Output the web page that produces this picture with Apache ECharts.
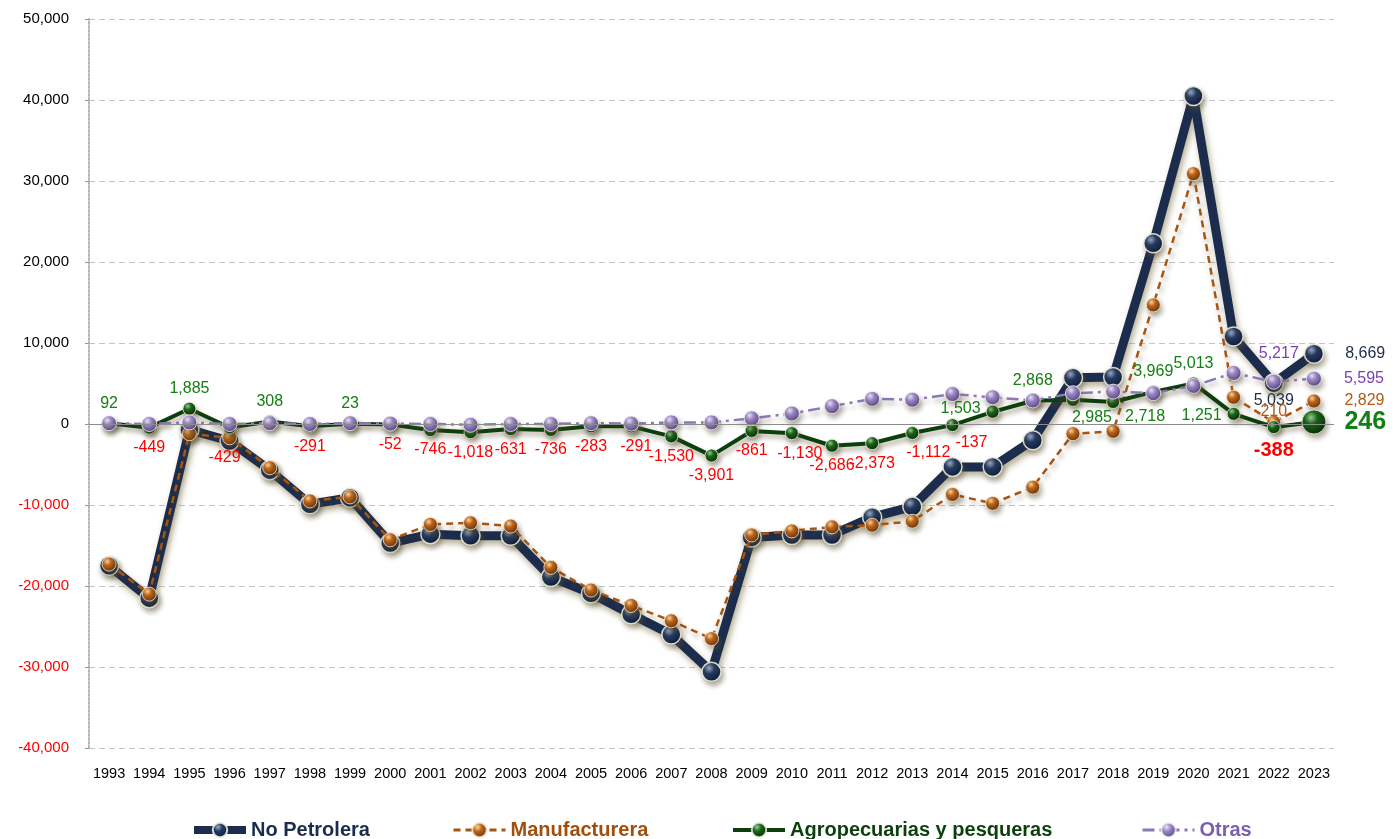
<!DOCTYPE html>
<html lang="es">
<head>
    <meta charset="UTF-8">
    <title>Balanza comercial no petrolera</title>
    <script src="https://cdn.jsdelivr.net/npm/echarts@6.0.0/dist/echarts.min.js"></script>
    <style>
        * { margin: 0; padding: 0; box-sizing: border-box; }
        body { background: #fff; }
        #chart { width: 1400px; height: 839px; }
    </style>
</head>
<body>
    <div id="chart"></div>
    <script>
        // datos
        const years = ['1993','1994','1995','1996','1997','1998','1999','2000','2001','2002','2003','2004','2005','2006','2007','2008','2009','2010','2011','2012','2013','2014','2015','2016','2017','2018','2019','2020','2021','2022','2023'];
        const noPetrolera = [-17500,-21500,-700,-2100,-5700,-9900,-9100,-14700,-13600,-13800,-13800,-18900,-20900,-23500,-26000,-30600,-14000,-13700,-13700,-11500,-10200,-5300,-5300,-2000,5700,5800,22300,40500,10800,5039,8669];
        const manufacturera = [-17300,-21000,-1200,-1700,-5400,-9500,-9000,-14300,-12400,-12200,-12600,-17700,-20500,-22400,-24300,-26500,-13700,-13200,-12700,-12500,-12000,-8700,-9800,-7800,-1200,-900,14700,30900,3300,210,2829];
        const agro = [92,-449,1885,-429,308,-291,23,-52,-746,-1018,-631,-736,-283,-291,-1530,-3901,-861,-1130,-2686,-2373,-1112,-137,1503,2868,2985,2718,3969,5013,1251,-388,246];
        const otras = [100,0,200,0,100,0,100,50,0,-100,0,0,100,50,200,200,700,1300,2200,3100,3000,3700,3300,2900,3800,4000,3800,4700,6300,5217,5595];
        const yTicks = [-40000, 50000, 10000]; // min, max, intervalo

        const fmt = v => v.toLocaleString('en-US');
        const labelFmt = p => fmt(p.value);
        const FONT = 'Arial, "Liberation Sans", sans-serif';

        const sphere = (light, base, dark) => ({
            type: 'radial', x: 0.38, y: 0.32, r: 0.75,
            colorStops: [
                { offset: 0, color: light },
                { offset: 0.35, color: base },
                { offset: 1, color: dark }
            ]
        });

        const cNavy = '#1b2c4c', cOrange = '#a9540f', cGreen = '#0b3f0b', cPurple = '#8c78b8';

        // posiciones de etiquetas de la serie agropecuaria
        const agroLabel = {
            3: { position: 'bottom', offset: [-5, 10] },
            13: { position: 'bottom', offset: [5, 0] },
            17: { position: 'bottom', offset: [8, 0] },
            20: { position: 'bottom', offset: [16, 0] },
            21: { position: 'bottom', offset: [19, -3] },
            22: { position: 'left', offset: [0, -3] },
            24: { position: 'bottom', offset: [19, -2] },
            25: { position: 'right', offset: [0, 15] },
            28: { position: 'left', offset: [0, 2] },
            29: { position: 'bottom', distance: 6, fontSize: 20, fontWeight: 'bold' },
            30: { position: 'right', distance: 18, fontSize: 25, fontWeight: 'bold' }
        };

        const agroData = agro.map((v, i) => {
            const custom = agroLabel[i] || {};
            const item = {
                value: v,
                label: Object.assign({
                    show: true,
                    position: v >= 0 ? 'top' : 'bottom',
                    color: v >= 0 ? '#138013' : '#ff0000'
                }, custom)
            };
            if (i === 30) item.symbolSize = 24;
            return item;
        });

        const lastLabels = (arr, specs) => arr.map((v, i) => {
            const s = specs[i - (arr.length - 2)];
            return s ? { value: v, label: Object.assign({ show: true }, s) } : v;
        });

        const navyData = lastLabels(noPetrolera, [
            { position: 'bottom', distance: -1 },
            { position: 'right', distance: 21 }
        ]);
        const orangeData = lastLabels(manufacturera, [
            { position: 'top', distance: -5 },
            { position: 'right', distance: 23 }
        ]);
        const purpleData = lastLabels(otras, [
            { position: 'top', distance: 12, offset: [5, 0] },
            { position: 'right', distance: 22 }
        ]);

        const shadow = {
            shadowColor: 'rgba(90,80,50,0.45)',
            shadowBlur: 5,
            shadowOffsetX: 2,
            shadowOffsetY: 4
        };

        const chart = echarts.init(document.getElementById('chart'));

        const legendBase = {
            top: 815,
            itemWidth: 52,
            itemHeight: 18,
            itemGap: 4,
            textStyle: {
                fontFamily: '"Liberation Sans Narrow", "Arial Narrow", Arial, sans-serif',
                fontSize: 20,
                fontWeight: 'bold'
            }
        };
        const legendFor = (left, name, color, lineWidth) => Object.assign({}, legendBase, {
            left: left,
            data: [name],
            lineStyle: { width: lineWidth },
            textStyle: Object.assign({}, legendBase.textStyle, { color: color })
        });

        const option = {
            animation: false,
            textStyle: { fontFamily: FONT },
            grid: { left: 89, right: 66, top: 19, bottom: 91 },
            legend: [
                legendFor(185, 'No Petrolera', cNavy, 8),
                legendFor(447, 'Manufacturera', '#a24f0c', 3),
                legendFor(726, 'Agropecuarias y pesqueras', cGreen, 4),
                legendFor(1136, 'Otras', '#7a5fb0', 3)
            ],
            xAxis: {
                type: 'category',
                data: years,
                boundaryGap: true,
                axisLine: { show: false },
                axisTick: { show: false },
                axisLabel: { fontSize: 14.5, color: '#000', margin: 18, interval: 0 }
            },
            yAxis: {
                type: 'value',
                min: yTicks[0],
                max: yTicks[1],
                interval: yTicks[2],
                axisLine: { show: true, lineStyle: { color: '#b5b5b5', type: 'dotted', width: 2 } },
                axisTick: { show: true, length: 4, lineStyle: { color: '#999' } },
                splitLine: { lineStyle: { color: '#c4c4c4', type: [6, 4], width: 1 } },
                axisLabel: {
                    fontSize: 15,
                    margin: 20,
                    formatter: v => fmt(v),
                    color: v => (v < 0 ? '#ff0000' : '#000')
                }
            },
            series: [
                {
                    name: 'No Petrolera',
                    type: 'line',
                    z: 1,
                    data: navyData,
                    symbol: 'circle',
                    symbolSize: 19,
                    lineStyle: { color: cNavy, width: 9, shadowColor: 'rgba(120,105,60,0.55)', shadowBlur: 6, shadowOffsetX: 2, shadowOffsetY: 4 },
                    itemStyle: Object.assign({
                        color: sphere('#9fb0cc', '#243a62', '#0c1730'),
                        borderColor: 'rgba(235,235,220,0.9)', borderWidth: 1.5
                    }, shadow),
                    label: { fontSize: 16, color: '#1f2d4a', formatter: labelFmt },
                    markLine: {
                        silent: true,
                        symbol: 'none',
                        label: { show: false },
                        lineStyle: { color: '#8c8c8c', type: 'solid', width: 1 },
                        data: [{ yAxis: 0 }]
                    }
                },
                {
                    name: 'Manufacturera',
                    type: 'line',
                    z: 2,
                    data: orangeData,
                    symbol: 'circle',
                    symbolSize: 14,
                    lineStyle: Object.assign({ color: cOrange, width: 2.5, type: [7, 5] }, shadow),
                    itemStyle: Object.assign({
                        color: sphere('#ffd9a0', '#c0661a', '#5e2c05'),
                        borderColor: 'rgba(240,235,220,0.8)', borderWidth: 1
                    }, shadow),
                    label: { fontSize: 16, color: '#b05a16', formatter: labelFmt }
                },
                {
                    name: 'Agropecuarias y pesqueras',
                    type: 'line',
                    z: 3,
                    data: agroData,
                    symbol: 'circle',
                    symbolSize: 13,
                    lineStyle: Object.assign({ color: cGreen, width: 4 }, shadow),
                    itemStyle: Object.assign({
                        color: sphere('#9ad09a', '#176417', '#052505'),
                        borderColor: 'rgba(240,240,225,0.8)', borderWidth: 1
                    }, shadow),
                    label: { fontSize: 16, formatter: labelFmt }
                },
                {
                    name: 'Otras',
                    type: 'line',
                    z: 4,
                    data: purpleData,
                    symbol: 'circle',
                    symbolSize: 15,
                    lineStyle: Object.assign({ color: cPurple, width: 2.5, type: [12, 5, 3, 5] }, shadow),
                    itemStyle: Object.assign({
                        color: sphere('#ece6f8', '#9c88c8', '#4d3c78'),
                        borderColor: 'rgba(245,245,240,0.8)', borderWidth: 1
                    }, shadow),
                    label: { fontSize: 16, color: '#7b3fb5', formatter: labelFmt }
                }
            ]
        };

        chart.setOption(option);
        window.addEventListener('resize', () => chart.resize());
    </script>
</body>
</html>
